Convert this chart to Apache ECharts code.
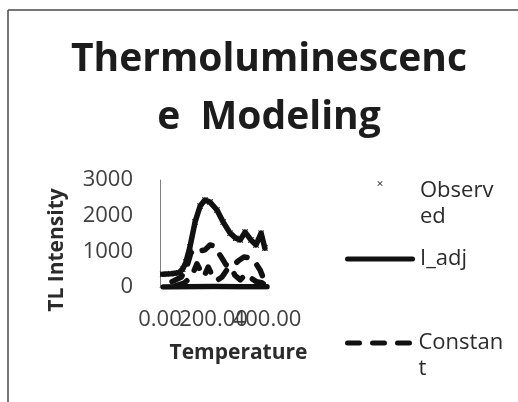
<!DOCTYPE html>
<html>
<head>
<meta charset="utf-8">
<script src="https://cdn.jsdelivr.net/npm/echarts@6/dist/echarts.min.js"></script>
<style>
  html, body { margin: 0; padding: 0; background: #ffffff; }
  #chart { width: 518px; height: 402px; }
</style>
</head>
<body>
<div id="chart"></div>
<script>
// Glow-curve readings: temperature vs TL intensity
const xTicks = [0, 200, 400];
const yTicks = [0, 1000, 2000, 3000];

const observedT = [10, 40, 70, 85, 97, 112, 131, 150, 168, 187, 213, 236, 262, 283, 300, 318, 340, 359, 378, 392];
const observedI = [360, 370, 400, 500, 700, 1120, 1820, 2270, 2440, 2380, 2160, 1820, 1510, 1370, 1320, 1540, 1320, 1180, 1510, 1090];

const iAdjT = [10, 40, 70, 85, 97, 112, 131, 150, 168, 187, 213, 236, 262, 283, 300, 318, 340, 359, 378, 392];
const iAdjI = [360, 370, 400, 500, 700, 1120, 1820, 2270, 2440, 2380, 2160, 1820, 1510, 1370, 1320, 1540, 1320, 1180, 1510, 1090];

const constantT = [45, 80, 100, 115, 130, 150, 168, 187, 205, 224, 247, 270, 292, 314, 336, 355, 374, 389];
const constantI = [150, 280, 560, 950, 1070, 1010, 1040, 1180, 1150, 900, 620, 560, 730, 840, 820, 700, 480, 200];

const linearT = [60, 90, 112, 127, 138, 150, 165, 180, 195, 212, 232, 250, 265, 280, 300, 320, 340, 360, 380, 395];
const linearI = [40, 110, 250, 450, 650, 480, 300, 560, 330, 180, 280, 480, 560, 330, 200, 360, 250, 150, 120, 60];

const baselineT = [12, 100, 200, 300, 400];
const baselineI = [0, 10, 15, 10, 5];

const pairs = (xs, ys) => xs.map((x, i) => [x, ys[i]]);

const FONT = '"Open Sans", "DejaVu Sans", sans-serif';
const lineColor = '#111111';
const dash = [12, 13];

// plot marker and legend glyphs: a small cross (sitting high in its box), a solid bar and a three-dash bar
const crossSymbol = 'path://M0,1L1,0L5,4L9,0L10,1L6,5L10,9L9,10L5,6L1,10L0,9L4,5Z';
const crossIcon = 'path://M0,0M140,40M65,1L66,0L70,4L74,0L75,1L71,5L75,9L74,10L70,6L66,10L65,9L69,5Z';
const solidBar = 'path://M2.5,0H67.5A2.5,2.5,0,0,1,67.5,5H2.5A2.5,2.5,0,0,1,2.5,0Z';
const dashBar = 'path://M2.5,0H14.5A2.5,2.5,0,0,1,14.5,5H2.5A2.5,2.5,0,0,1,2.5,0Z' +
  'M27.5,0H39.5A2.5,2.5,0,0,1,39.5,5H27.5A2.5,2.5,0,0,1,27.5,0Z' +
  'M52.5,0H64.5A2.5,2.5,0,0,1,64.5,5H52.5A2.5,2.5,0,0,1,52.5,0Z';

// the middle temperature tick is drawn by a second, label-only axis so all three labels show
const midTick = xTicks[1];
const fmtT = v => v.toFixed(2);

const chart = echarts.init(document.getElementById('chart'), null, { renderer: 'canvas' });

const legendText = { fontFamily: FONT, fontSize: 22, color: '#2b2b2b', lineHeight: 26 };
const tickLabel = { fontFamily: FONT, fontSize: 22, color: '#404040', margin: 22, hideOverlap: false };

chart.setOption({
  animation: false,
  backgroundColor: '#ffffff',
  title: {
    text: 'Thermoluminescenc\ne  Modeling',
    left: 269,
    top: 31,
    padding: 0,
    textAlign: 'center',
    textStyle: {
      fontFamily: FONT,
      fontSize: 39,
      fontWeight: 'bold',
      color: '#1c1c1c',
      lineHeight: 58
    }
  },
  grid: { left: 160, top: 180, width: 107, height: 107 },
  xAxis: [
    {
      type: 'value',
      min: xTicks[0],
      max: xTicks[xTicks.length - 1],
      interval: xTicks[1] - xTicks[0],
      name: 'Temperature',
      nameLocation: 'middle',
      nameGap: 56,
      nameTextStyle: { fontFamily: FONT, fontSize: 21, fontWeight: 'bold', color: '#2b2b2b', padding: [0, 0, 0, 50] },
      axisLine: { show: true, lineStyle: { color: '#808080', width: 1 } },
      axisTick: { show: false },
      splitLine: { show: false },
      axisLabel: Object.assign({}, tickLabel, {
        showMinLabel: true, showMaxLabel: true,
        formatter: v => (v === midTick ? '' : fmtT(v))
      })
    },
    {
      type: 'value',
      gridIndex: 0,
      position: 'bottom',
      min: xTicks[0],
      max: xTicks[xTicks.length - 1],
      interval: xTicks[1] - xTicks[0],
      axisLine: { show: false },
      axisTick: { show: false },
      splitLine: { show: false },
      axisLabel: Object.assign({}, tickLabel, {
        formatter: v => (v === midTick ? fmtT(v) : '')
      })
    }
  ],
  yAxis: {
    type: 'value',
    min: yTicks[0],
    max: yTicks[yTicks.length - 1],
    interval: yTicks[1] - yTicks[0],
    name: 'TL Intensity',
    nameLocation: 'middle',
    nameGap: 92,
    nameTextStyle: { fontFamily: FONT, fontSize: 21, fontWeight: 'bold', color: '#2b2b2b', padding: [0, 33, 0, 0] },
    axisLine: { show: true, lineStyle: { color: '#808080', width: 1 } },
    axisTick: { show: false },
    splitLine: { show: false },
    axisLabel: {
      fontFamily: FONT, fontSize: 22, color: '#404040', margin: 27,
      showMinLabel: true, showMaxLabel: true, hideOverlap: false,
      formatter: v => String(v)
    }
  },
  legend: [
    {
      left: 345, top: 152, padding: 0,
      itemWidth: 70, itemHeight: 20, symbolKeepAspect: true,
      data: [{ name: 'Observed', icon: crossIcon, itemStyle: { color: lineColor } }],
      formatter: () => '\nObserv\ned',
      textStyle: legendText
    },
    {
      left: 345, top: 246, padding: 0,
      itemWidth: 70, itemHeight: 5, symbolKeepAspect: true,
      data: [{ name: 'I_adj', icon: solidBar, itemStyle: { color: lineColor } }],
      textStyle: legendText
    },
    {
      left: 345, top: 304, padding: 0,
      itemWidth: 70, itemHeight: 5, symbolKeepAspect: true,
      data: [{ name: 'Constant', icon: dashBar, itemStyle: { color: lineColor } }],
      formatter: () => '\nConstan\nt',
      textStyle: legendText
    }
  ],
  graphic: [
    { type: 'line', shape: { x1: 8, y1: 10, x2: 8, y2: 402 }, style: { stroke: '#4a4a4a', lineWidth: 1.5 } },
    { type: 'line', shape: { x1: 8, y1: 10, x2: 518, y2: 10 }, style: { stroke: '#4a4a4a', lineWidth: 1.5 } }
  ],
  series: [
    {
      name: 'Observed', type: 'line', z: 1,
      symbol: crossSymbol, symbolSize: 6, showSymbol: true,
      itemStyle: { color: lineColor },
      lineStyle: { width: 0, opacity: 0 },
      data: pairs(observedT, observedI)
    },
    {
      name: 'I_adj', type: 'line', z: 3, symbol: 'none',
      itemStyle: { color: lineColor },
      lineStyle: { color: lineColor, width: 5.5, cap: 'round', join: 'round' },
      data: pairs(iAdjT, iAdjI)
    },
    {
      name: 'Constant', type: 'line', z: 3, symbol: 'none',
      itemStyle: { color: lineColor },
      lineStyle: { color: lineColor, width: 5.5, type: dash, cap: 'round', join: 'round' },
      data: pairs(constantT, constantI)
    },
    {
      name: 'Linear', type: 'line', z: 3, symbol: 'none',
      itemStyle: { color: lineColor },
      lineStyle: { color: lineColor, width: 5.5, type: dash, cap: 'round', join: 'round' },
      data: pairs(linearT, linearI)
    },
    {
      name: 'Baseline', type: 'line', z: 3, symbol: 'none',
      itemStyle: { color: lineColor },
      lineStyle: { color: lineColor, width: 5.5, cap: 'round', join: 'round' },
      data: pairs(baselineT, baselineI)
    }
  ]
});
</script>
</body>
</html>
